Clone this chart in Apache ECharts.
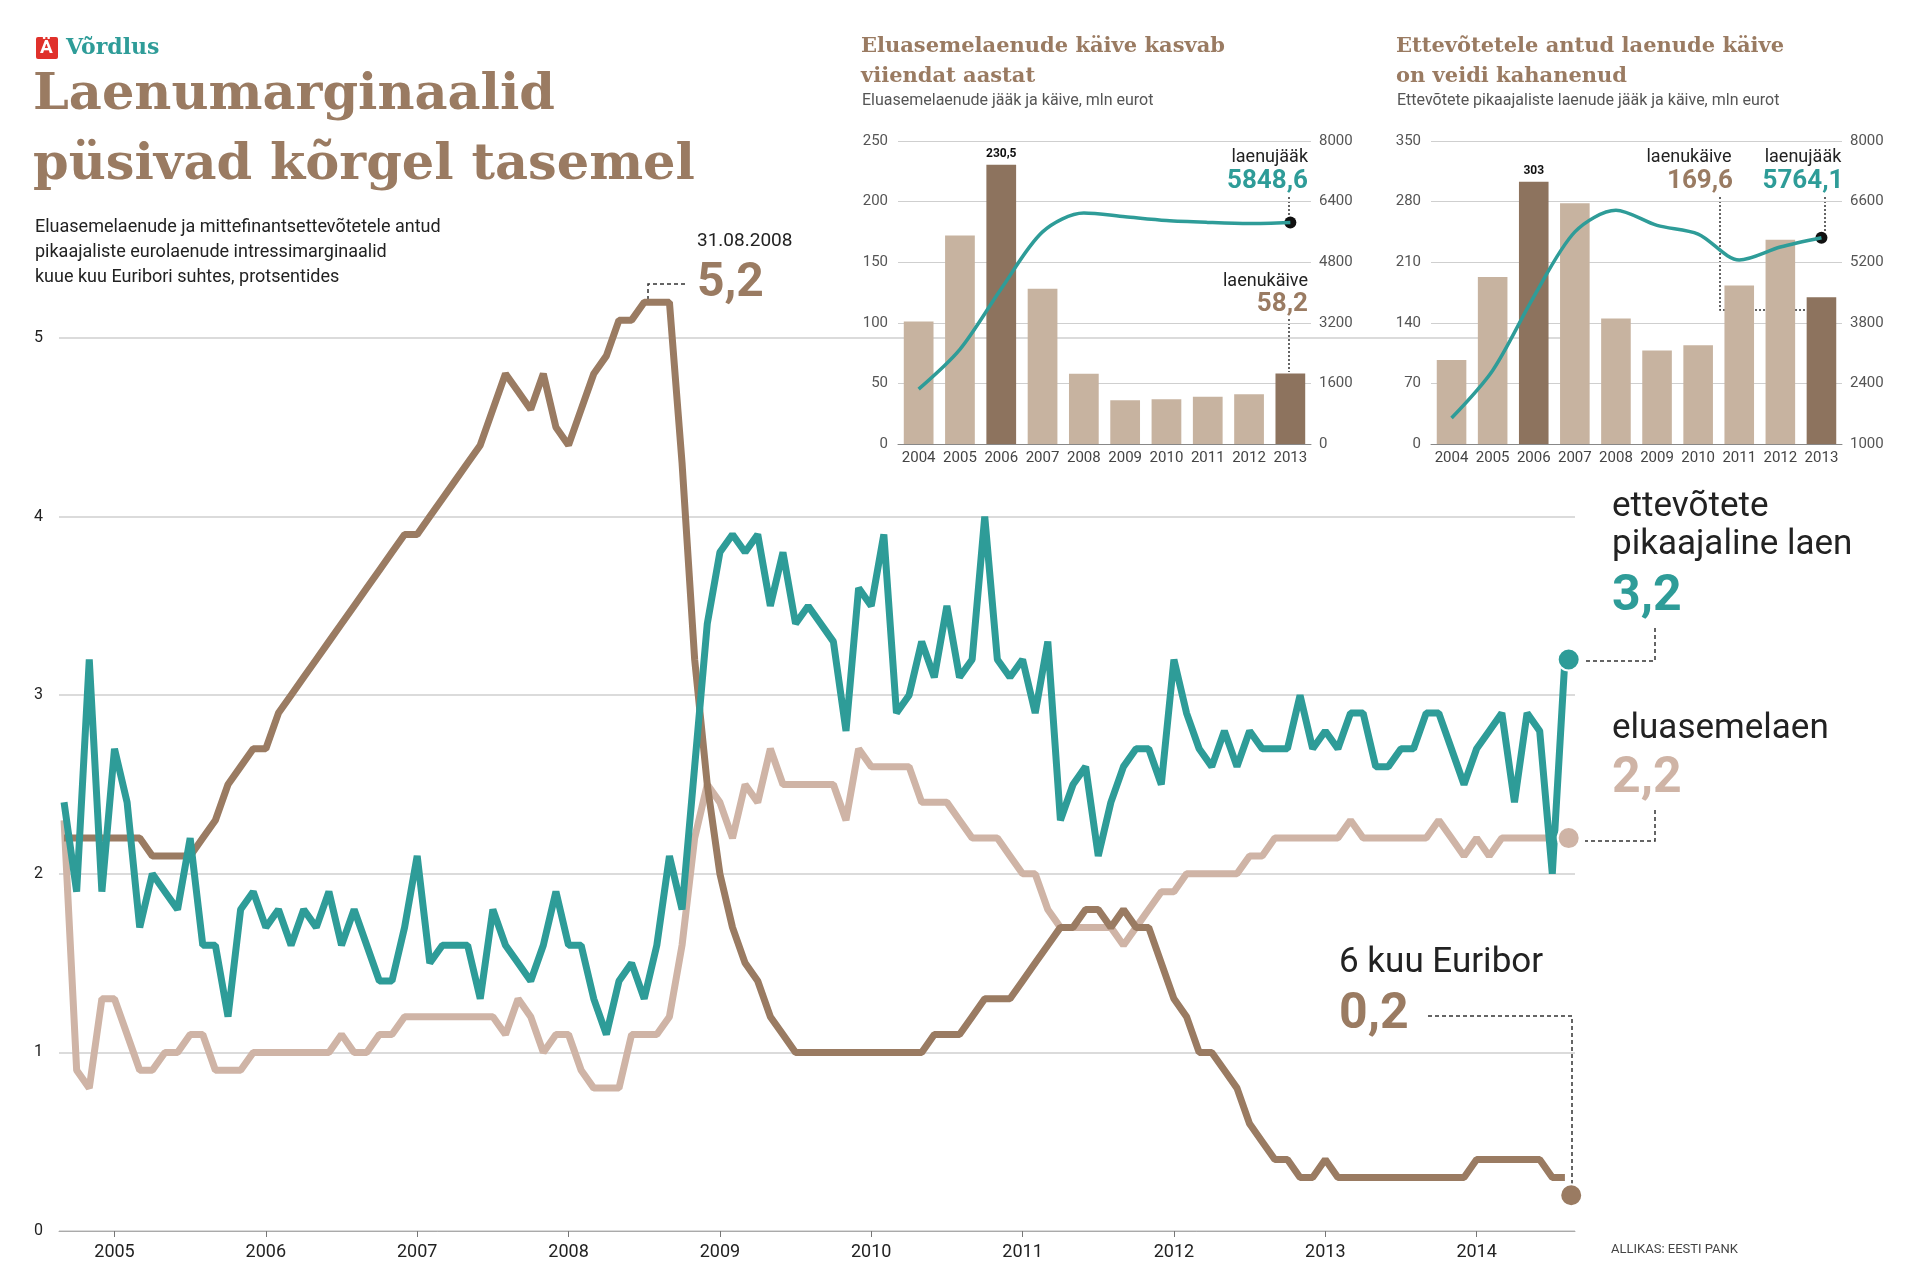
<!DOCTYPE html>
<html><head><meta charset="utf-8">
<script src="https://cdn.jsdelivr.net/npm/echarts@6/dist/echarts.min.js"></script>
<style>html,body{margin:0;background:#fff}#c{width:1920px;height:1286px}</style>
</head><body><div id="c"></div>
<script>
// põhigraafik: kuud 09.2004 - 08.2014
const yearLabels = ['2005','2006','2007','2008','2009','2010','2011','2012','2013','2014'];
const euribor = [2.2,2.2,2.2,2.2,2.2,2.2,2.2,2.1,2.1,2.1,2.1,2.2,2.3,2.5,2.6,2.7,2.7,2.9,3.0,3.1,
  3.2,3.3,3.4,3.5,3.6,3.7,3.8,3.9,3.9,4.0,4.1,4.2,4.3,4.4,4.6,4.8,4.7,4.6,4.8,4.5,
  4.4,4.6,4.8,4.9,5.1,5.1,5.2,5.2,5.2,4.3,3.2,2.5,2.0,1.7,1.5,1.4,1.2,1.1,1.0,1.0,
  1.0,1.0,1.0,1.0,1.0,1.0,1.0,1.0,1.0,1.1,1.1,1.1,1.2,1.3,1.3,1.3,1.4,1.5,1.6,1.7,
  1.7,1.8,1.8,1.7,1.8,1.7,1.7,1.5,1.3,1.2,1.0,1.0,0.9,0.8,0.6,0.5,0.4,0.4,0.3,0.3,
  0.4,0.3,0.3,0.3,0.3,0.3,0.3,0.3,0.3,0.3,0.3,0.3,0.4,0.4,0.4,0.4,0.4,0.4,0.3,0.3];
const ettevotted = [2.4,1.9,3.2,1.9,2.7,2.4,1.7,2.0,1.9,1.8,2.2,1.6,1.6,1.2,1.8,1.9,1.7,1.8,1.6,1.8,
  1.7,1.9,1.6,1.8,1.6,1.4,1.4,1.7,2.1,1.5,1.6,1.6,1.6,1.3,1.8,1.6,1.5,1.4,1.6,1.9,
  1.6,1.6,1.3,1.1,1.4,1.5,1.3,1.6,2.1,1.8,2.6,3.4,3.8,3.9,3.8,3.9,3.5,3.8,3.4,3.5,
  3.4,3.3,2.8,3.6,3.5,3.9,2.9,3.0,3.3,3.1,3.5,3.1,3.2,4.0,3.2,3.1,3.2,2.9,3.3,2.3,
  2.5,2.6,2.1,2.4,2.6,2.7,2.7,2.5,3.2,2.9,2.7,2.6,2.8,2.6,2.8,2.7,2.7,2.7,3.0,2.7,
  2.8,2.7,2.9,2.9,2.6,2.6,2.7,2.7,2.9,2.9,2.7,2.5,2.7,2.8,2.9,2.4,2.9,2.8,2.0,3.2];
const eluase = [2.3,0.9,0.8,1.3,1.3,1.1,0.9,0.9,1.0,1.0,1.1,1.1,0.9,0.9,0.9,1.0,1.0,1.0,1.0,1.0,
  1.0,1.0,1.1,1.0,1.0,1.1,1.1,1.2,1.2,1.2,1.2,1.2,1.2,1.2,1.2,1.1,1.3,1.2,1.0,1.1,
  1.1,0.9,0.8,0.8,0.8,1.1,1.1,1.1,1.2,1.6,2.2,2.5,2.4,2.2,2.5,2.4,2.7,2.5,2.5,2.5,
  2.5,2.5,2.3,2.7,2.6,2.6,2.6,2.6,2.4,2.4,2.4,2.3,2.2,2.2,2.2,2.1,2.0,2.0,1.8,1.7,
  1.7,1.7,1.7,1.7,1.6,1.7,1.8,1.9,1.9,2.0,2.0,2.0,2.0,2.0,2.1,2.1,2.2,2.2,2.2,2.2,
  2.2,2.2,2.3,2.2,2.2,2.2,2.2,2.2,2.2,2.3,2.2,2.1,2.2,2.1,2.2,2.2,2.2,2.2,2.2,2.2];
const endValues = [3.2, 2.2, 0.2];

// väikesed graafikud
const years = ['2004','2005','2006','2007','2008','2009','2010','2011','2012','2013'];
const eluKaive = [101,172,230.5,128,58,36,37,39,41,58.2];
const eluJaak = [1450,2500,4100,5600,6100,6000,5900,5850,5820,5848.6];
const ettKaive = [97,193,303,278,145,108,114,183,236,169.6];
const ettJaak = [1600,2700,4400,5900,6400,6050,5850,5250,5550,5764.1];

const BROWN='#9a7b62', TEAL='#2e9c98', LIGHT='#cfb4a6', BAR='#c7b3a0', BARD='#8d735e';
const SANS="'Liberation Sans Narrow','Roboto',sans-serif";
const SLAB="'DejaVu Serif',serif";
const pts = arr => arr.map((v,i)=>[i,v]);
const bars = arr => arr.map((v,i)=>({value:v,itemStyle:{color:(i===2||i===9)?BARD:BAR}}));

const chart = echarts.init(document.getElementById('c'));
const smallY = (grid,min,max,interval,pos) => ({
  type:'value',gridIndex:grid,min,max,interval,position:pos,
  axisLine:{show:false},axisTick:{show:false},
  splitLine:{show:pos==='left',lineStyle:{color:'#cfcfcf'}},
  axisLabel:{color:'#555',fontSize:15,fontFamily:SANS,margin:pos==='left'?10:8,formatter:v=>String(v)}
});
const smallX = grid => ({type:'category',gridIndex:grid,data:years,
  axisLine:{lineStyle:{color:'#888'}},axisTick:{show:false},
  axisLabel:{color:'#444',fontSize:15,fontFamily:SANS,interval:0,margin:7}});
const t = (x,y,text,size,color,extra) => ({type:'text',x,y,
  style:Object.assign({text,fontSize:size,fill:color,fontFamily:SANS,textVerticalAlign:'top'},extra||{})});
const dash = (points,type) => ({type:'polyline',shape:{points},
  style:{stroke:'#333',lineWidth:1.5,lineDash:type||[4,3],fill:null}});

chart.setOption({
  animation:false,
  grid:[
    {left:59,right:345,top:338,bottom:55},
    {left:898,right:609,top:141,bottom:842},
    {left:1431,right:78,top:141,bottom:842}
  ],
  xAxis:[
    {type:'value',gridIndex:0,min:-0.4,max:119.8,splitLine:{show:false},
     axisLine:{lineStyle:{color:'#aaa'}},
     axisTick:{customValues:[4,16,28,40,52,64,76,88,100,112],length:6,lineStyle:{color:'#777'}},
     axisLabel:{customValues:[4,16,28,40,52,64,76,88,100,112],
       formatter:v=>yearLabels[(v-4)/12],color:'#222',fontSize:18,fontFamily:SANS,margin:12}},
    smallX(1), smallX(2)
  ],
  yAxis:[
    {type:'value',gridIndex:0,min:0,max:5,interval:1,axisLine:{show:false},axisTick:{show:false},
     splitLine:{lineStyle:{color:'#cfcfcf',width:1.5}},
     axisLabel:{color:'#222',fontSize:16,fontFamily:SANS,margin:16}},
    smallY(1,0,250,50,'left'), smallY(1,0,8000,1600,'right'),
    smallY(2,0,350,70,'left'), smallY(2,1000,8000,1400,'right')
  ],
  series:[
    {type:'line',xAxisIndex:0,yAxisIndex:0,data:pts(eluase),symbol:'none',clip:false,
     lineStyle:{color:LIGHT,width:7},z:3},
    {type:'line',xAxisIndex:0,yAxisIndex:0,data:pts(euribor),symbol:'none',clip:false,
     lineStyle:{color:BROWN,width:7},z:4},
    {type:'line',xAxisIndex:0,yAxisIndex:0,data:pts(ettevotted),symbol:'none',clip:false,
     lineStyle:{color:TEAL,width:7},z:5},
    {type:'scatter',xAxisIndex:0,yAxisIndex:0,symbolSize:22,z:6,
     data:[{value:[119.3,endValues[0]],itemStyle:{color:TEAL}},
           {value:[119.3,endValues[1]],itemStyle:{color:LIGHT}},
           {value:[119.5,endValues[2]],itemStyle:{color:BROWN}},
           {value:[46,5.2],itemStyle:{color:'#b89a84'}}],
     itemStyle:{borderColor:'#fff',borderWidth:2,opacity:1}},
    {type:'bar',xAxisIndex:1,yAxisIndex:1,data:bars(eluKaive),barCategoryGap:'28%',
     label:{show:true,position:'top',formatter:p=>p.dataIndex===2?'230,5':'',fontSize:12,fontWeight:'bold',color:'#111',fontFamily:SANS}},
    {type:'line',xAxisIndex:1,yAxisIndex:2,data:eluJaak,smooth:0.3,lineStyle:{color:TEAL,width:3.5},
     symbol:'none',z:5,markPoint:{symbol:'circle',symbolSize:12,itemStyle:{color:'#111'},label:{show:false},
       data:[{coord:[9,eluJaak[9]]}]}},
    {type:'bar',xAxisIndex:2,yAxisIndex:3,data:bars(ettKaive),barCategoryGap:'28%',
     label:{show:true,position:'top',formatter:p=>p.dataIndex===2?'303':'',fontSize:12,fontWeight:'bold',color:'#111',fontFamily:SANS}},
    {type:'line',xAxisIndex:2,yAxisIndex:4,data:ettJaak,smooth:0.3,lineStyle:{color:TEAL,width:3.5},
     symbol:'none',z:5,markPoint:{symbol:'circle',symbolSize:12,itemStyle:{color:'#111'},label:{show:false},
       data:[{coord:[9,ettJaak[9]]}]}}
  ],
  graphic:[
    {type:'rect',left:36,top:37,shape:{width:22,height:22,r:2},style:{fill:'#e0312b'}},
    t(40,39,'Ä',19,'#fff',{fontWeight:'bold'}),
    t(66,37,'Võrdlus',22,TEAL,{fontWeight:'bold',fontFamily:SLAB}),
    t(33,70,'Laenumarginaalid',51,BROWN,{fontWeight:'bold',fontFamily:SLAB}),
    t(33,140,'püsivad kõrgel tasemel',51,BROWN,{fontWeight:'bold',fontFamily:SLAB}),
    t(35,218,'Eluasemelaenude ja mittefinantsettevõtetele antud',18,'#222'),
    t(35,243,'pikaajaliste eurolaenude intressimarginaalid',18,'#222'),
    t(35,268,'kuue kuu Euribori suhtes, protsentides',18,'#222'),
    t(697,232,'31.08.2008',19,'#222'),
    t(697,260,'5,2',48,BROWN,{fontWeight:'bold'}),
    dash([[648,300],[648,284],[688,284]]),
    t(1612,490,'ettevõtete',35,'#222'),
    t(1612,528,'pikaajaline laen',35,'#222'),
    t(1612,572,'3,2',50,TEAL,{fontWeight:'bold'}),
    dash([[1655,628],[1655,661],[1585,661]]),
    t(1612,712,'eluasemelaen',35,'#222'),
    t(1612,754,'2,2',50,LIGHT,{fontWeight:'bold'}),
    dash([[1655,810],[1655,841],[1585,841]]),
    t(1339,946,'6 kuu Euribor',35,'#222'),
    t(1339,990,'0,2',50,BROWN,{fontWeight:'bold'}),
    dash([[1428,1016],[1572,1016],[1572,1185]]),
    t(1611,1243,'ALLIKAS: EESTI PANK',13,'#444'),
    // inset 1
    t(861,36,'Eluasemelaenude käive kasvab',21,BROWN,{fontWeight:'bold',fontFamily:SLAB}),
    t(861,66,'viiendat aastat',21,BROWN,{fontWeight:'bold',fontFamily:SLAB}),
    t(862,93,'Eluasemelaenude jääk ja käive, mln eurot',16,'#555'),
    t(1308,148,'laenujääk',18,'#222',{textAlign:'right'}),
    t(1308,168,'5848,6',26,TEAL,{fontWeight:'bold',textAlign:'right'}),
    dash([[1289,197],[1289,218]],[2,2]),
    t(1308,272,'laenukäive',18,'#222',{textAlign:'right'}),
    t(1308,291,'58,2',26,BROWN,{fontWeight:'bold',textAlign:'right'}),
    dash([[1289,319],[1289,372]],[2,2]),
    // inset 2
    t(1396,36,'Ettevõtetele antud laenude käive',21,BROWN,{fontWeight:'bold',fontFamily:SLAB}),
    t(1396,66,'on veidi kahanenud',21,BROWN,{fontWeight:'bold',fontFamily:SLAB}),
    t(1397,93,'Ettevõtete pikaajaliste laenude jääk ja käive, mln eurot',16,'#555'),
    t(1689,148,'laenukäive',18,'#222',{textAlign:'center'}),
    t(1700,168,'169,6',26,BROWN,{fontWeight:'bold',textAlign:'center'}),
    dash([[1720,197],[1720,310],[1825,310]],[2,2]),
    t(1803,148,'laenujääk',18,'#222',{textAlign:'center'}),
    t(1803,168,'5764,1',26,TEAL,{fontWeight:'bold',textAlign:'center'}),
    dash([[1825,197],[1825,232]],[2,2])
  ]
});
</script></body></html>
